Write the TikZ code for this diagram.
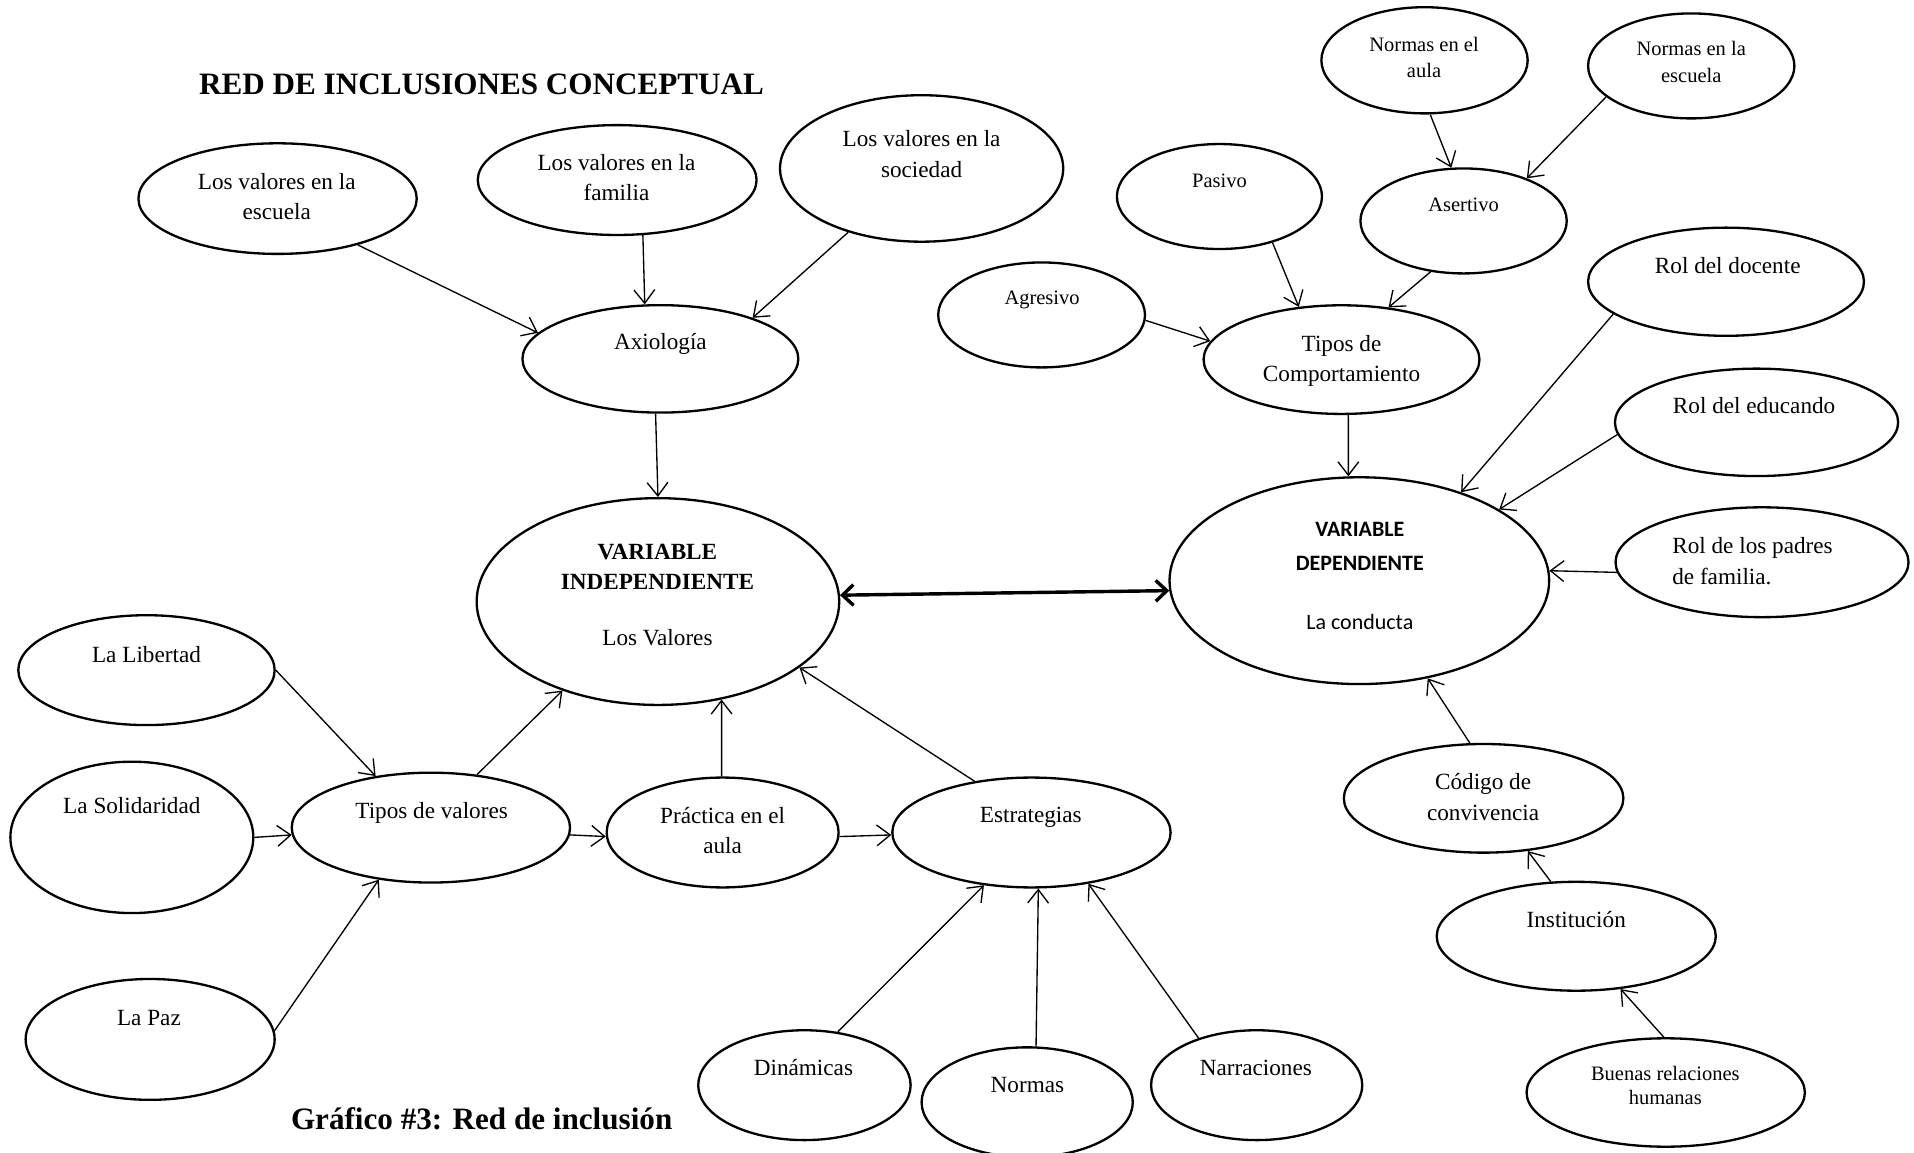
\documentclass[tikz,border=0pt]{standalone}
\usepackage{fontspec}
\setmainfont{Liberation Serif}
\newfontfamily\calibri{Carlito}
\usepackage{tikz}
\usetikzlibrary{shapes,arrows.meta,positioning}
\tikzstyle{concept} = [draw, ellipse, line width=1.9pt, inner sep=0pt]
\tikzstyle{textonly} = [draw=none, fill=none, inner sep=0pt, align=center, font=\fontsize{19}{25.2}\selectfont]
\tikzstyle{smalltext} = [textonly, font=\fontsize{16.8}{21.6}\selectfont]
\tikzstyle{titletext} = [textonly, anchor=base, font=\bfseries\fontsize{25.5}{30}\selectfont]
\tikzstyle{tedge} = [line width=1.1pt, >={Straight Barb[length=11pt,width=17pt]}, ->]
\tikzstyle{bigedge} = [line width=2.8pt, >={Straight Barb[length=9pt,width=17pt]}, <->]

\begin{document}
\begin{tikzpicture}[x=1pt, y=-1pt]
\useasboundingbox (0,0) rectangle (1568,944);

\node[titletext] (titulo) at (394.5,77.8) {RED DE INCLUSIONES CONCEPTUAL};

% parte axiologica
\node[concept, minimum width=228pt, minimum height=90.6pt] (escuela) at (227.4,162.7) {};
\node[textonly] (escuelatxt) at (226.7,161) {Los valores en la\\escuela};
\node[concept, minimum width=228.4pt, minimum height=90pt] (familia) at (505.6,147.5) {};
\node[textonly] (familiatxt) at (505,145.5) {Los valores en la\\familia};
\node[concept, minimum width=232pt, minimum height=120pt] (sociedad) at (755,138) {};
\node[textonly] (sociedadtxt) at (755,126) {Los valores en la\\sociedad};
\node[concept, minimum width=226pt, minimum height=88pt] (axiologia) at (541,294) {};
\node[textonly] (axiologiatxt) at (541,281.7) {Axiología};

% variables
\node[concept, minimum width=297pt, minimum height=169.4pt] (independiente) at (539,492.8) {};
\node[textonly, font=\bfseries\fontsize{19}{24.8}\selectfont] (independientetxt) at (538.6,487.2) {VARIABLE\\INDEPENDIENTE\\[21pt]{\mdseries Los Valores}};
\node[concept, minimum width=311pt, minimum height=169.4pt] (dependiente) at (1113.6,475.7) {};
\node[textonly, font=\calibri\bfseries\fontsize{18}{27.4}\selectfont] (dependientetxt) at (1114,471.8) {VARIABLE\\DEPENDIENTE\\[21pt]{\mdseries La conducta}};

% tipos de valores
\node[concept, minimum width=210pt, minimum height=90pt] (libertad) at (120,549) {};
\node[textonly] (libertadtxt) at (120,536.5) {La Libertad};
\node[concept, minimum width=199pt, minimum height=124pt] (solidaridad) at (108,686) {};
\node[textonly] (solidaridadtxt) at (108,659.6) {La Solidaridad};
\node[concept, minimum width=204pt, minimum height=99pt] (paz) at (123,851.5) {};
\node[textonly] (paztxt) at (122,834) {La Paz};
\node[concept, minimum width=228pt, minimum height=90pt] (tipos) at (353,678) {};
\node[textonly] (tipostxt) at (353.6,665.7) {Tipos de valores};
\node[concept, minimum width=190pt, minimum height=90pt] (practica) at (592,682) {};
\node[textonly] (practicatxt) at (592,680.4) {Práctica en el\\aula};
\node[concept, minimum width=228pt, minimum height=90pt] (estrategias) at (845,682) {};
\node[textonly] (estrategiastxt) at (844.5,669.7) {Estrategias};
\node[concept, minimum width=174pt, minimum height=90pt] (dinamicas) at (659,889) {};
\node[textonly] (dinamicastxt) at (658.2,874.2) {Dinámicas};
\node[concept, minimum width=173pt, minimum height=90pt] (normas) at (841.5,903) {};
\node[textonly] (normastxt) at (841.7,889.2) {Normas};
\node[concept, minimum width=173pt, minimum height=90pt] (narraciones) at (1029.5,889) {};
\node[textonly] (narracionestxt) at (1028.8,875) {Narraciones};

% comportamiento
\node[concept, minimum width=169pt, minimum height=87pt] (normasaula) at (1167,49.4) {};
\node[smalltext] (normasaulatxt) at (1166.6,46.9) {Normas en el\\aula};
\node[concept, minimum width=169pt, minimum height=86pt] (normasescuela) at (1385.5,54) {};
\node[smalltext] (normasescuelatxt) at (1385.5,50.7) {Normas en la\\escuela};
\node[concept, minimum width=169pt, minimum height=86pt] (asertivo) at (1199,181) {};
\node[smalltext] (asertivotxt) at (1199,167.7) {Asertivo};
\node[concept, minimum width=168pt, minimum height=86pt] (pasivo) at (999,161) {};
\node[smalltext] (pasivotxt) at (999,148) {Pasivo};
\node[concept, minimum width=169.4pt, minimum height=86pt] (agresivo) at (853.3,258) {};
\node[smalltext] (agresivotxt) at (853.7,246.1) {Agresivo};
\node[concept, minimum width=226pt, minimum height=89pt] (comportamiento) at (1099,294.6) {};
\node[textonly] (comportamientotxt) at (1099,295.6) {Tipos de\\Comportamiento};

% roles
\node[concept, minimum width=226pt, minimum height=88.6pt] (docente) at (1414,230.8) {};
\node[textonly] (docentetxt) at (1415.4,217.5) {Rol del docente};
\node[concept, minimum width=232pt, minimum height=88pt] (educando) at (1439,346) {};
\node[textonly] (educandotxt) at (1437,332) {Rol del educando};
\node[concept, minimum width=240pt, minimum height=90pt] (padres) at (1443.5,460.6) {};
\node[textonly, anchor=west, align=left] (padrestxt) at (1369.8,459.4) {Rol de los padres\\de familia.};

% convivencia
\node[concept, minimum width=229pt, minimum height=89pt] (codigo) at (1215.4,654) {};
\node[textonly] (codigotxt) at (1215,652.7) {Código de\\convivencia};
\node[concept, minimum width=228.6pt, minimum height=89.2pt] (institucion) at (1291.3,767) {};
\node[textonly] (instituciontxt) at (1291.3,753.3) {Institución};
\node[concept, minimum width=228pt, minimum height=88.8pt] (buenas) at (1364.6,895) {};
\node[smalltext, font=\fontsize{16.8}{19.1}\selectfont] (buenastxt) at (1364.3,889.2) {Buenas relaciones\\humanas};

\node[titletext] (grafico) at (394.6,925) {Gráfico \#3: Red de inclusión};

\draw[tedge] (escuela.-30.4) -- (axiologia.168.1);
\draw[tedge] (familia.-65.2) -- (axiologia.106.3);
\draw[tedge] (sociedad.221.5) -- (axiologia.24.3);
\draw[tedge] (axiologia.-95) -- (independiente.90.7);

\draw[bigedge] (independiente.2.6) -- (dependiente.183.8);

\draw[tedge] (tipos.49.3) -- (independiente.223);
\draw[tedge] (practica.91.3) -- (independiente.-57.4);
\draw[tedge] (estrategias.138.6) -- (independiente.-25.3);

\draw[tedge] (libertad.0.8) -- (tipos.137.7);
\draw[tedge] (solidaridad.0.6) -- (tipos.183.4);
\draw[tedge] (paz.4.3) -- (tipos.225);
\draw[tedge] (tipos.-3.5) -- (practica.182);
\draw[tedge] (practica.-2.1) -- (estrategias.181.7);

\draw[tedge] (dinamicas.58.1) -- (estrategias.228.9);
\draw[tedge] (normas.81.2) -- (estrategias.-83);
\draw[tedge] (narraciones.141) -- (estrategias.-42.5);

\draw[tedge] (normasaula.-84.3) -- (asertivo.103);
\draw[tedge] (normasescuela.200.9) -- (asertivo.34.8);
\draw[tedge] (pasivo.-41.4) -- (comportamiento.129.3);
\draw[tedge] (asertivo.237.2) -- (comportamiento.48.7);
\draw[tedge] (agresivo.-3.7) -- (comportamiento.172.5);
\draw[tedge] (comportamiento.-83.6) -- (dependiente.96.1);

\draw[tedge] (docente.196.2) -- (dependiente.41);
\draw[tedge] (educando.185.9) -- (dependiente.27.7);
\draw[tedge] (padres.184) -- (dependiente.3.1);
\draw[tedge] (codigo.104.7) -- (dependiente.-55.7);
\draw[tedge] (institucion.115.2) -- (codigo.-50.7);
\draw[tedge] (buenas.92.7) -- (institucion.-50.7);

\end{tikzpicture}
\end{document}
